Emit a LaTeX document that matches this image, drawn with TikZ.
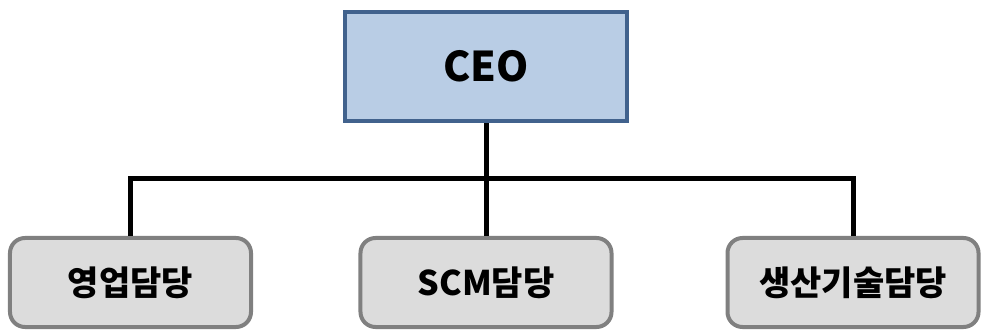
\documentclass[tikz,border=0pt]{standalone}
\usepackage{fontspec}
\setmainfont{Noto Sans CJK KR}
\definecolor{ceofill}{HTML}{B9CDE5}
\definecolor{ceoline}{HTML}{41628D}
\definecolor{teamfill}{HTML}{DCDCDC}
\definecolor{teamline}{HTML}{808080}
\tikzset{
    ceobox/.style={draw=ceoline, fill=ceofill, line width=0.12cm, minimum width=8.43cm, minimum height=3.27cm, font=\fontsize{35}{40}\selectfont\bfseries},
    teambox/.style={draw=teamline, fill=teamfill, line width=0.12cm, rounded corners=0.45cm, minimum width=7.53cm, minimum height=2.67cm, font=\fontsize{29}{34}\selectfont\bfseries},
    wire/.style={line width=0.15cm, black}
}
\begin{document}
\begin{tikzpicture}[x=0.03cm, y=0.03cm]
        \useasboundingbox (0,0) rectangle (981,331);

        \node[ceobox] (ceo) at (486, 264.5) {CEO};

        \node[teambox, minimum width=7.23cm] (sales) at (130.5, 48.5) {영업담당};
        \node[teambox] (scm) at (486, 48.5) {SCM담당};
        \node[teambox] (tech) at (853, 48.5) {생산기술담당};

        \coordinate (bus) at (486, 153);
        \draw[wire] (ceo.south) -- (scm.north);
        \draw[wire] (sales.north) |- (bus) -| (tech.north);
    \end{tikzpicture}
\end{document}
